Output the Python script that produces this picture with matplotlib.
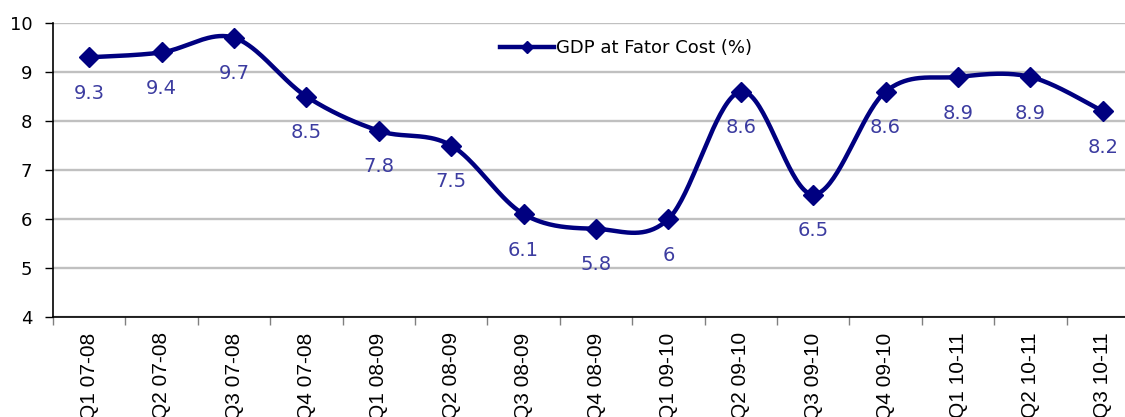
import numpy as np
import matplotlib.pyplot as plt
from matplotlib.lines import Line2D

quarters = ['Q1 07-08', 'Q2 07-08', 'Q3 07-08', 'Q4 07-08', 'Q1 08-09', 'Q2 08-09',
            'Q3 08-09', 'Q4 08-09', 'Q1 09-10', 'Q2 09-10', 'Q3 09-10', 'Q4 09-10',
            'Q1 10-11', 'Q2 10-11', 'Q3 10-11']
gdp_growth = [9.3, 9.4, 9.7, 8.5, 7.8, 7.5, 6.1, 5.8, 6.0, 8.6, 6.5, 8.6, 8.9, 8.9, 8.2]
value_labels = ['9.3', '9.4', '9.7', '8.5', '7.8', '7.5', '6.1', '5.8', '6',
                '8.6', '6.5', '8.6', '8.9', '8.9', '8.2']

LINE_COLOR = '#000080'
LABEL_COLOR = '#3C3CA0'


def smooth_curve(x, y, steps=40):
    # Catmull-Rom style smoothing, like Excel's "smoothed line"
    x = np.asarray(x, float)
    y = np.asarray(y, float)
    px = np.concatenate([[x[0]], x, [x[-1]]])
    py = np.concatenate([[y[0]], y, [y[-1]]])
    xs, ys = [], []
    t = np.linspace(0, 1, steps)
    for i in range(1, len(px) - 2):
        p0, p1, p2, p3 = (np.array([px[k], py[k]]) for k in (i - 1, i, i + 1, i + 2))
        c1 = p1 + (p2 - p0) / 6.0
        c2 = p2 - (p3 - p1) / 6.0
        b = ((1 - t) ** 3)[:, None] * p1 + (3 * (1 - t) ** 2 * t)[:, None] * c1 \
            + (3 * (1 - t) * t ** 2)[:, None] * c2 + (t ** 3)[:, None] * p2
        xs.append(b[:, 0])
        ys.append(b[:, 1])
    return np.concatenate(xs), np.concatenate(ys)


fig = plt.figure(figsize=(11.25, 4.17), dpi=100)
ax = fig.add_axes([53 / 1125, 100 / 417, 1086 / 1125, 294 / 417])

x = np.arange(len(quarters))
sx, sy = smooth_curve(x, gdp_growth)
ax.plot(sx, sy, color=LINE_COLOR, lw=3.2, solid_capstyle='round', zorder=3)
ax.plot(x, gdp_growth, ls='none', marker='D', ms=10.5, color=LINE_COLOR, zorder=4)

for xi, yi, txt in zip(x, gdp_growth, value_labels):
    ax.annotate(txt, (xi, yi), xytext=(0, -26), textcoords='offset points',
                ha='center', va='center', fontsize=14, color=LABEL_COLOR,
                family='DejaVu Sans')

ax.set_xlim(-0.5, len(quarters) - 0.5)
ax.set_ylim(4, 10)
ax.set_yticks(range(4, 11))
ax.yaxis.grid(True, color='#C0C0C0', lw=1.7)
ax.set_axisbelow(True)

ax.set_xticks(x)
ax.set_xticklabels(quarters, rotation=90, va='top', ha='center',
                   fontsize=15, family='Liberation Sans')
ax.set_xticks(np.arange(-0.5, len(quarters), 1), minor=True)
ax.tick_params(axis='x', which='major', length=0, pad=11)
ax.tick_params(axis='x', which='minor', length=6, color='#808080', width=1)
ax.tick_params(axis='y', length=6, width=1, pad=9, labelsize=13)

for s in ('top', 'right'):
    ax.spines[s].set_visible(False)
ax.spines['left'].set_linewidth(1.2)
ax.spines['bottom'].set_linewidth(1.2)

handle = Line2D([], [], color=LINE_COLOR, lw=3.2, marker='D', ms=6)
fig.legend([handle], ['GDP at Fator Cost (%)'], loc='center left',
           bbox_to_anchor=(500 / 1125, 1 - 48 / 417), frameon=False,
           fontsize=13, handlelength=3.0, handletextpad=0.1,
           borderpad=0, borderaxespad=0)

fig.savefig('out.png', dpi=100)
